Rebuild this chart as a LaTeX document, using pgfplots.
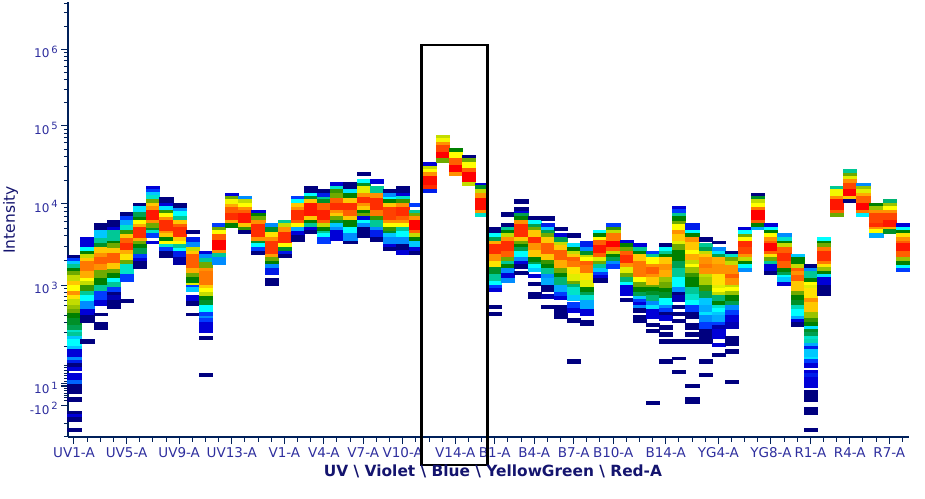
\documentclass[border=0pt]{standalone}
\usepackage{pgfplots}
\pgfplotsset{compat=1.18}
\usepackage{fontspec}
\setmainfont{DejaVu Sans}
\definecolor{spine}{HTML}{00205A}
\definecolor{ticktext}{HTML}{2E2E9E}
\definecolor{titletext}{HTML}{14146E}
\newcommand{\sx}[1]{\,\raisebox{4.5pt}{\fontsize{10}{10}\selectfont #1}}
\pgfdeclareplotmark{cell}{%
  \pgfpathrectanglecorners{\pgfpoint{-6.6pt}{0pt}}{\pgfpoint{6.6pt}{-\hh pt}}%
  \pgfusepathqfillstroke}
\pgfplotstableread{
i t b c
0 255 258.3 0
0 258.3 260.7 2
0 260.7 264 4
0 264 267.7 6
0 267.7 271 8
0 271 275.3 9
0 275.3 281 10
0 281 285 12
0 285 291 11
0 291 295.3 13
0 295.3 299.3 11.5
0 299.3 305 10
0 305 309 9.5
0 309 312.7 9
0 312.7 318 8
0 318 325 7.5
0 325 330 7
0 330 332.3 5.5
0 332.3 335.7 6
0 335.7 339.3 4
0 339.3 346 5
0 346 349.3 4
0 349.3 356.7 1
0 356.7 360 3
0 360 363.3 1.5
0 363.3 366.7 0
0 366.7 370 1
0 373.3 380 1
0 380 384 2.5
0 384 393.3 0
0 397.3 400.7 0
0 411 414.5 0
0 414.5 416.7 1
0 416.7 420.7 0
0 428 430.7 0
1 236.7 247.3 1
1 247.3 251 5
1 251 254.3 8
1 254.3 257.7 10
1 257.7 261 12
1 261 271 13.5
1 271 277.7 12.5
1 277.7 281 11
1 281 285 10
1 285 291 8.5
1 291 295 6
1 295 301 5
1 301 309 3
1 309 315 1
1 315 321.7 0
1 339.3 342.7 0
2 223.3 230 0
2 230 237.7 4
2 237.7 243.3 6
2 243.3 247.3 7.5
2 247.3 252.7 12
2 252.7 257.3 13
2 257.3 264.3 14
2 264.3 270 13
2 270 277.7 9
2 277.7 285 8
2 285 290.7 6
2 290.7 300 2
2 300 304.7 1
2 312.7 315 0
2 322.3 329 0
3 220 227.3 0
3 227.3 230 1
3 230 241 6
3 241 243.3 8
3 243.3 247.7 9
3 247.7 252.7 12
3 252.7 262.7 14
3 262.7 269.3 12
3 269.3 273.3 9
3 273.3 277.7 8
3 277.7 281.7 5
3 281.7 287.3 6
3 287.3 291.7 2
3 291.7 295 0
3 295 300 0.6
3 300 308.3 0
4 212.3 216 0
4 216 220 2
4 220 225 3.5
4 225 230 5.5
4 230 234 8.5
4 234 237.7 12
4 237.7 243.3 14
4 243.3 250 15
4 250 254.3 12.5
4 254.3 260 11.5
4 260 264.3 9
4 264.3 273.3 5.5
4 274.3 281 2
4 299 301.7 0
5 202.7 206 0
5 206 211.7 4.5
5 211.7 216.7 7
5 216.7 220 8
5 220 224.3 11
5 224.3 227.3 12.5
5 227.3 238.3 15
5 238.3 241 12.5
5 241 244 9
5 244 247.7 8
5 247.7 253.3 7
5 254.3 257.7 2
5 257.7 261 1
5 261 267.7 0
6 185.7 189 1
6 189 192.3 2
6 192.3 195 4
6 195 199.3 5.5
6 199.3 202.7 9
6 202.7 206 12
6 206 210 13
6 210 220 15.5
6 220 223.3 13
6 223.3 227.7 9
6 227.7 230 7.5
6 230 233.3 5.5
6 233.3 236.7 2
6 240.7 243.3 1
7 196.7 202.7 0
7 202.7 206 1
7 206 210 4.5
7 210 213.3 8.5
7 213.3 216.7 11
7 216.7 220 13
7 220 231 15
7 231 233.3 13
7 233.3 236.7 12
7 236.7 241 8
7 241 244 11
7 244 247.3 5.5
7 247.3 251 2
7 251 256.7 0
8 202.7 208.3 0
8 208.3 211 3
8 211 216 5
8 216 220 6
8 220 224.3 12
8 224.3 227.3 14
8 227.3 236.7 15
8 236.7 241 12
8 241 244 11
8 244 247.7 6
8 247.7 251 5
8 251 256.7 1.5
8 256.7 264.3 0.4
9 230 233.3 0
9 236.7 241.7 1.5
9 241.7 246.7 3
9 246.7 251 10
9 251 254.3 12
9 254.3 267.7 14
9 267.7 273.3 12.5
9 273.3 277.3 9
9 277.3 283.3 8
9 283.3 285 10.5
9 285 287.3 2
9 287.3 290.7 4
9 295 301 1
9 301 305 0
9 312.7 315 0
10 250.7 254.3 1
10 254.3 257.7 3
10 257.7 261.7 6
10 261.7 267.7 9
10 267.7 271 13
10 271 285 13.5
10 285 288.3 12
10 288.3 291.7 11
10 291.7 296 10
10 296 300 8
10 300 305 7.5
10 305 312.3 5
10 312.3 315.7 2
10 315.7 318.3 3
10 318.3 322.3 2
10 322.3 331.7 1
10 336 339.3 0
10 373.3 376 0
11 223.3 227.3 2
11 227.3 230 9
11 230 234 11
11 234 240 14
11 240 250 16
11 250 253.3 13
11 253.3 257.3 6
11 257.3 264 3
12 192.7 196 1
12 196 199 9
12 199 204 10.8
12 204 206.7 12.5
12 206.7 213.3 14
12 213.3 220 15
12 220 223.3 12.5
12 223.3 226.7 8
13 196 199.3 3
13 199.3 203.3 10
13 203.3 206.7 11
13 206.7 210 13
13 210 213.3 14
13 213.3 223.3 15.5
13 223.3 226.7 12
13 226.7 230 8.5
13 230 233.3 0
14 210 212.7 1
14 212.7 216 8
14 216 220 9
14 220 224 13
14 224 236.7 15
14 236.7 241 13
14 241 243.3 7.5
14 243.3 247.3 5
14 247.3 250.7 2
14 250.7 254 0
15 223.3 227.3 3
15 227.3 231.7 7.5
15 231.7 236.7 11.5
15 236.7 241 13
15 241 254 14.8
15 254 257.3 12.8
15 257.3 260.7 9
15 260.7 264 8
15 264 267.7 3
15 267.7 274.3 1.4
15 277.7 285 0
16 220 223.3 6
16 223.3 227.3 10
16 227.3 231.7 13
16 231.7 243.3 15
16 243.3 246.7 11
16 246.7 250.7 7.5
16 250.7 254 1.4
16 254 256.7 0
17 196 199 2
17 199 202.7 5
17 202.7 206.7 12
17 206.7 210 13
17 210 220 15
17 220 223.3 14
17 223.3 227.3 11
17 227.3 230.7 3.5
17 230.7 235 1
17 235 240.7 0
18 185.7 192.7 0
18 192.7 196 5
18 196 199 7.5
18 199 202.7 12
18 202.7 216 15.5
18 216 220 12
18 220 223.3 8
18 223.3 226.7 6
18 226.7 230 1
18 230 233.3 0
19 189.3 192.7 0
19 192.7 196.7 1.5
19 196.7 199 6
19 199 203.3 7.5
19 203.3 210 14
19 210 220 15.3
19 220 223.3 14
19 223.3 227.3 10
19 227.3 230.7 8
19 230.7 233.3 6
19 233.3 236.7 5
19 236.7 243.3 2
20 182.3 185.7 1
20 185.7 189.3 5.5
20 189.3 193.3 8.5
20 193.3 198.3 9
20 198.3 202.7 14
20 202.7 210 15
20 210 212.7 13
20 212.7 216 12
20 216 220 9
20 220 223.3 7.5
20 223.3 226.7 4
20 226.7 230 3
20 230 240 1
21 182.3 189.3 0
21 189.3 193.3 4.5
21 193.3 198.3 8
21 198.3 202.7 12
21 202.7 210 15
21 210 216 14
21 216 220 12
21 220 226.7 8
21 226.7 233.3 5
21 233.3 240.7 3
21 240.7 243.3 0
22 171.7 175 0
22 179 182.7 5
22 182.7 185.7 7.5
22 185.7 193.3 10.5
22 193.3 196.7 13
22 196.7 202.7 15
22 202.7 206 13
22 206 210 12
22 210 213.3 8
22 213.3 216 9
22 216 220 1
22 220 223.3 5
22 223.3 226.7 3
22 226.7 236.7 0
23 179 182.7 1
23 185.7 193.3 6
23 193.3 198.3 13
23 198.3 210 15
23 210 216 13.5
23 216 220 8.5
23 220 226.7 6
23 226.7 230 3
23 230 236.7 1.5
23 236.7 240.7 0
24 189.3 193.3 0
24 193.3 196.7 3
24 196.7 199 5
24 199 202.7 8
24 202.7 207.3 12
24 207.3 220 14.6
24 220 223.3 13
24 223.3 227.3 11
24 227.3 230.7 8.5
24 230.7 233.3 7.5
24 233.3 236.7 4
24 236.7 244 3
24 244 247 1
24 247 250 0
25 185.7 192.7 0
25 192.7 196 1
25 196 199 5.5
25 199 202.7 8.5
25 202.7 207.3 13
25 207.3 216 15
25 216 220 14
25 220 223.3 13
25 223.3 227.3 11
25 227.3 230.7 6
25 230.7 236.7 5
25 236.7 244 3
25 244 250 0
25 250 254 1
26 202.7 206 2
26 210 212.7 6
26 212.7 216 9
26 216 220 13
26 220 230 16
26 230 233.3 14
26 233.3 237.3 10
26 237.3 240.7 8
26 240.7 246.7 4
26 246.7 250.7 1
26 250.7 254 0
27 161.7 165.7 1
27 165.7 169.3 10
27 169.3 171.7 11
27 171.7 175.7 13
27 175.7 185 15.7
27 185 189 15
27 189 192.3 1.5
28 135 138.3 10
28 138.3 141.7 10.8
28 141.7 145 13
28 145 151.7 14.5
28 151.7 158.3 16
28 158.3 161.7 9
29 148.3 151.7 8
29 151.7 158.3 11
29 158.3 165 14
29 165 171.7 16
29 171.7 175 13
30 155 158.3 0
30 158.3 161.7 9
30 161.7 168.3 11
30 168.3 171.7 14
30 171.7 181.7 16
30 181.7 185 10
31 182.7 185 1
31 185 189 7.5
31 189 193.3 10
31 193.3 198.3 13
31 198.3 210 15.7
31 210 212.7 13
31 212.7 216 5.5
32 227.3 232.7 0
32 233.3 236.7 5
32 236.7 240.7 7
32 240.7 244 12.5
32 244 254 15
32 254 260.7 13
32 260.7 267.3 11.5
32 267.3 274 7.5
32 274 280.7 6
32 280.7 285 5
32 285 288.3 2
32 288.3 291 1
32 305 308.3 0
32 312.3 315 0
33 212.3 216 0
33 223.3 227.3 0
33 227.3 230 6
33 230 233.3 8
33 233.3 236.7 10
33 236.7 240.7 13
33 240.7 250.7 15
33 250.7 256.7 14
33 256.7 260.7 9
33 260.7 264 6
33 264 268.3 8
33 268.3 273.3 3
33 273.3 278.3 1
33 278.3 281.7 3
34 199 202.7 0
34 206.7 210.7 0
34 210.7 212.7 1
34 212.7 216 7
34 216 220 8
34 220 224 13
34 224 236.7 15
34 236.7 240.7 12
34 240.7 244 9
34 244 247.3 8
34 247.3 250.7 7
34 250.7 256.7 5
34 256.7 260.7 3
34 260.7 264 1
34 264 268.3 0
34 270.7 274 0
35 216 220 0
35 220 224 5
35 224 227.3 7
35 227.3 230 9
35 230 236.7 12
35 236.7 243.3 15
35 243.3 250 13
35 250 256.7 12
35 256.7 261.7 8
35 261.7 264 7
35 264 268.3 5
35 268.3 270.7 4
35 274 277.3 1
35 281.7 285 0
35 291.7 298.3 0
36 216 220 0
36 223.3 227.3 1.5
36 227.3 230 4
36 230 233.3 7
36 233.3 237.3 9
36 237.3 243.3 12
36 243.3 254 14
36 254 260 12
36 260 264 8.5
36 264 268.3 8
36 268.3 274 6
36 274 278.3 3
36 278.3 285 3.5
36 285 290.7 0
36 294 298.3 0.5
36 305 308.3 0
37 227.3 230 0
37 233.3 236.7 1
37 236.7 241.7 7
37 241.7 245 10
37 245 250 12
37 250 260 14
37 260 268.3 12.5
37 268.3 273.3 9
37 273.3 277.3 8
37 277.3 285 6.5
37 285 291.7 3.5
37 291.7 295.7 2
37 295.7 299 1
37 305 318.3 0
38 233.3 236.7 0
38 243.3 247.3 4.5
38 247.3 250.7 8
38 250.7 254 10
38 254 257.3 12
38 257.3 260.7 14
38 260.7 267.3 13.5
38 267.3 274 11.5
38 274 280.7 10.5
38 280.7 284 9
38 284 287.3 6.5
38 287.3 295 5.5
38 295 300 4
38 301.7 308.3 2
38 308.3 311.7 1
38 318.3 321.7 0
38 359.3 362.7 0
39 240.7 246.7 1.5
39 246.7 250.7 3
39 250.7 255 7.5
39 255 257.3 10
39 257.3 260.7 11
39 260.7 265 14
39 265 273.3 13.5
39 273.3 280 11.5
39 280 287.3 10.5
39 287.3 291.7 8
39 291.7 295 7
39 295 300 5.5
39 300 309.3 3.5
39 309.3 315 1
39 320 325 0
40 230 233.3 5
40 233.3 236.7 8
40 236.7 240 11
40 240 245 14
40 245 253.3 15.5
40 253.3 256.7 14
40 256.7 260.7 10.5
40 260.7 264 9
40 264 268.3 6
40 268.3 272.3 4
40 272.3 275 2
40 275 278 1
40 278 281.7 0
41 223.3 227.3 2
41 227.3 230 8.5
41 230 233.3 10
41 233.3 240.7 13.5
41 240.7 247.3 16
41 247.3 250.7 14
41 250.7 254 10
41 254 257.3 8
41 257.3 260.7 7
41 260.7 264 3
41 264 268.3 2
42 240 243.3 1
42 243.3 246.7 8
42 246.7 250.7 9
42 250.7 255 14
42 255 263.3 15
42 263.3 267.3 13
42 267.3 273.3 10.5
42 273.3 277.3 9
42 277.3 281.7 6.5
42 281.7 285 5
42 285 295 1
42 298.3 300.7 0
43 243.3 246.7 1
43 246.7 250.7 6
43 250.7 254 8
43 254 260.7 12
43 260.7 277.3 13.5
43 277.3 281.7 11
43 281.7 286.7 9
43 286.7 291.7 8
43 291.7 295.7 7
43 295.7 299 4
43 299 301.7 2
43 301.7 305 1
43 305 308.3 3
43 308.3 311.7 0
43 315 321.7 0
44 250.7 254 2
44 254 257.3 6
44 257.3 264 11
44 264 267.3 13
44 267.3 274 14
44 274 277.3 13
44 277.3 285 12
44 285 287.3 9
44 287.3 291 8
44 291 295 7.5
44 295 301 6.5
44 301 305 3
44 305 309 4.5
44 309 318.3 1
44 322.7 326 0
44 329.3 332.3 0
44 401 404 0
45 243.3 247.3 0
45 247.3 250.7 5
45 250.7 254 6
45 254 257.3 8
45 257.3 264 12
45 264 270 13
45 270 277.3 12.5
45 277.3 281.7 9.5
45 281.7 288.3 9
45 288.3 291.7 8
45 291.7 298.3 7.5
45 298.3 305 5
45 305 308.3 3
45 308.3 311.7 2
45 311.7 315 0
45 315 320 1
45 325 329.3 0
45 332.3 335.7 0
45 339.3 342.7 0
45 359.3 362.7 0
46 206 209.3 1
46 209.3 212.7 2
46 212.7 216 6
46 216 220.7 8
46 220.7 224 9
46 224 230 11
46 230 234 13
46 234 240.7 12
46 240.7 244 10.5
46 244 250 9
46 250 260.7 8
46 260.7 268.3 7
46 268.3 277.3 6
46 277.3 286.7 5
46 286.7 291.7 3
46 291.7 295 0
46 295 300.7 0.6
46 305 308.3 0
46 311.7 315 0
46 319.3 321.7 0
46 339.3 342.7 0
46 356.7 359.3 0
46 370 372.7 0
47 223.3 230 1.5
47 230 233.3 5
47 233.3 237.3 8
47 237.3 241.7 13
47 241.7 250 12
47 250 254 11
47 254 260 12.5
47 260 264 10
47 264 267.3 11
47 267.3 273.3 9.5
47 273.3 277.3 8.5
47 277.3 286.7 8
47 286.7 294 6
47 294 300 5.5
47 300 305 5
47 305 311.7 2
47 311.7 318.3 0
47 322.7 329.3 0
47 332.3 335.7 0
47 339.3 342.7 0
47 384 387.3 0
47 397.3 403.3 0
48 237.3 240.7 0
48 243.3 247.3 6
48 247.3 250.7 7
48 250.7 254 10
48 254 257.3 12
48 257.3 264 13
48 264 268.3 13.5
48 268.3 274 13
48 274 277.3 10
48 277.3 285 9.7
48 285 291 8.5
48 291 298.3 7
48 298.3 305 4
48 305 311.7 3.5
48 311.7 315 4.5
48 315 322.3 3
48 322.3 329.3 2
48 329.3 342.7 0
48 359.3 362.7 0
48 373.3 376 0
49 240.7 243.3 0
49 247.3 250.7 3
49 250.7 254 4.5
49 254 257.3 7
49 257.3 264 12.5
49 264 268.3 13
49 268.3 274 13
49 274 285 11.5
49 285 288.3 10.5
49 288.3 291.7 11
49 291.7 295 10
49 295 300.7 6.5
49 300.7 305 8
49 305 308.3 5.5
49 308.3 311.7 5
49 311.7 315 4
49 315 321.7 3.5
49 321.7 325 2
49 325 329.3 0.5
49 329.3 338.3 1
49 342.7 346 1
49 352.7 356 0
50 250.7 254 0
50 254 256.7 5.5
50 256.7 260.7 9
50 260.7 265 10
50 265 274 13
50 274 278.3 14
50 278.3 285 13
50 285 287.3 10
50 287.3 291 11
50 291 295 9.5
50 295 300.7 8
50 300.7 305 7
50 305 310 3
50 310 315 2
50 315 321.7 1
50 321.7 328.3 0.6
50 336 345 0
50 349.3 352.7 0
50 380 383.3 0
51 226.7 230 1
51 230 234 5
51 234 237.3 9
51 237.3 240.7 11
51 240.7 247.3 15
51 247.3 254 14.5
51 254 257.3 13
51 257.3 260.7 10
51 260.7 264 8
51 264 268.3 5
51 268.3 270.7 3
52 192.7 196 0
52 196 199.3 7.5
52 199.3 203.3 10
52 203.3 206.7 11
52 206.7 210 13.5
52 210 220 16
52 220 223.3 14
52 223.3 226.7 8
52 226.7 229.3 3.5
53 223.3 227.3 1
53 227.3 230 5
53 230 233.3 8
53 233.3 237.3 11
53 237.3 240.7 13
53 240.7 243.3 14
53 243.3 250.7 16
53 250.7 254 14
53 254 257.3 11.5
53 257.3 260.7 9
53 260.7 264 6
53 264 270.7 1
53 270.7 274 0
54 233.3 237.3 3
54 237.3 240.7 5.5
54 240.7 243.3 8
54 243.3 246.7 10
54 246.7 253.3 14
54 253.3 260.7 15
54 260.7 268.3 14
54 268.3 271.7 8
54 271.7 275 7
54 275 277.3 5
54 277.3 281.7 4
54 281.7 285 1
55 254 257.3 4
55 257.3 264 8
55 264 268.3 10
55 268.3 270.7 14
55 270.7 275 13
55 275 280.7 14
55 280.7 290.7 12
55 290.7 295 9
55 295 300 8
55 300 305 7.5
55 305 309.3 5.7
55 309.3 316 5
55 316 319.3 3.5
55 319.3 322 1
55 322 325.7 0
56 264 268.3 0
56 268.3 270.7 3
56 270.7 278.3 6
56 278.3 281.7 8
56 281.7 285 11
56 285 288.3 10.5
56 288.3 298.3 11.5
56 298.3 301.7 13
56 301.7 311.7 12
56 311.7 318.3 9.5
56 318.3 321.7 8.5
56 321.7 325.7 8
56 325.7 329.3 4.5
56 329.3 331.7 7.5
56 331.7 335.7 7
56 335.7 339.3 5.5
56 339.3 342.7 5.7
56 342.7 346 3.5
56 346 349.3 1.5
56 349.3 357.3 4
56 357.3 359.3 4.5
56 359.3 362.7 2
56 362.7 366.7 1
56 370 373.3 1
56 373.3 377.3 1.5
56 377.3 386.7 1
56 390 400.7 0
56 407.3 414 0
56 428.3 430.7 0
57 237.3 240.7 5
57 240.7 243.3 8
57 243.3 247.3 9
57 247.3 250.7 13.5
57 250.7 260.7 15
57 260.7 264 13.5
57 264 267.3 11.5
57 267.3 270.7 9.5
57 270.7 274 8
57 274 277.3 4.5
57 277.3 285 1
57 285 295 0
58 185.7 189 6
58 189 195.7 10.8
58 195.7 199.3 13
58 199.3 210 15.5
58 210 212.7 14
58 212.7 216 9
59 169.3 172.7 6
59 172.7 175.7 9
59 175.7 179.3 10.5
59 179.3 182.7 13
59 182.7 189.3 14.5
59 189.3 196 16
59 196 199.3 12
59 199.3 202.3 0
60 182.7 186 3
60 186 189.3 9.5
60 189.3 192.7 10.5
60 192.7 196 12.5
60 196 202.7 14
60 202.7 210 16
60 210 212.7 13.5
60 212.7 216 4.7
61 202.7 206 8
61 206 210 9.5
61 210 213.3 13
61 213.3 223.3 14.5
61 223.3 226.7 15
61 226.7 229.3 13
61 229.3 233.3 11
61 233.3 237.3 3.5
62 199.3 202.7 6.5
62 202.7 206 9.5
62 206 210 11
62 210 213.3 13
62 213.3 220 14.5
62 220 226.7 15.5
62 226.7 229.3 12.5
62 229.3 233.3 7.5
63 223.3 227.3 1
63 227.3 230 5
63 230 233.3 8
63 233.3 237.3 11.5
63 237.3 240.7 13
63 240.7 243.3 14
63 243.3 250.7 15.5
63 250.7 257.3 14
63 257.3 260.7 9.5
63 260.7 265 8
63 265 268.3 5
63 268.3 270.7 2
}\cells
\begin{document}
\begin{tikzpicture}[x=1pt,y=1pt]
\path[use as bounding box] (0,0) rectangle (925,498);
\begin{axis}[
  at={(68.3pt,61pt)}, anchor=south west,
  scale only axis, width=840.7pt, height=435pt,
  xmin=-0.433, xmax=63.5, ymin=2, ymax=437, y dir=reverse,
  axis x line=bottom, axis y line=left,
  axis line style={line width=2pt, color=spine, -},
  every tick/.style={color=spine, line width=1pt},
  tick align=outside,
  major tick length=7pt, minor tick length=4.5pt,
  xtick={0,4,8,12,16,19,22,25,29,32,35,38,41,45,49,53,56,59,62},
  xticklabels={UV1-A,UV5-A,UV9-A,UV13-A,V1-A,V4-A,V7-A,V10-A,V14-A,B1-A,B4-A,B7-A,B10-A,B14-A,YG4-A,YG8-A,R1-A,R4-A,R7-A},
  minor xtick={0,...,63},
  x tick label style={font=\fontsize{13.5}{15}\selectfont, text=ticktext, yshift=0pt},
  ytick={49,125.5,203.5,285,383.5,385,386.5,405.5},
  yticklabels={10\sx{6},10\sx{5},10\sx{4},10\sx{3},,10\sx{1},,-10\sx{2}},
  minor ytick={3,12.6,26,52.5,56.4,60.8,66,72,79.4,89,102.5,129,133,137.6,142.8,149,156.5,166.3,180,207,211.4,216,221.6,228,235.9,246,260.5,288.5,292,296,300,305,315,322.7,332.7,346.7,365,367,370,373,375,378,381,383,388,390,393,395,397,400,423,436},
  y tick label style={font=\fontsize{12}{14}\selectfont, text=ticktext, yshift=-3pt},
  colormap={ramp}{rgb255=(0,0,127) rgb255=(0,0,215) rgb255=(0,60,255) rgb255=(0,140,255) rgb255=(0,200,255) rgb255=(0,255,255) rgb255=(0,200,150) rgb255=(0,160,80) rgb255=(0,128,0) rgb255=(110,170,0) rgb255=(195,220,0) rgb255=(255,255,0) rgb255=(255,200,0) rgb255=(255,145,0) rgb255=(255,95,0) rgb255=(255,45,0) rgb255=(255,0,0)},
  point meta min=0, point meta max=16,
  clip=false,
]
\addplot[
  scatter, only marks, mark=cell,
  scatter src=explicit,
  scatter/use mapped color={draw=mapped color, fill=mapped color},
  mark options={line width=0.1pt},
  visualization depends on={\thisrow{b}-\thisrow{t} \as \hh},
] table[x=i, y=t, meta=c] {\cells};
\end{axis}
\draw[line width=2.8pt, black] (421.3,453) rectangle (487.3,33);
\node[anchor=center, text=titletext, font=\fontsize{15.4}{17}\selectfont\bfseries] at (493,27) {UV \textbackslash{} Violet \textbackslash{} Blue \textbackslash{} YellowGreen \textbackslash{} Red-A};
\node[anchor=center, rotate=90, text=titletext, font=\fontsize{15.5}{17}\selectfont] at (10.7,278) {Intensity};
\end{tikzpicture}
\end{document}
